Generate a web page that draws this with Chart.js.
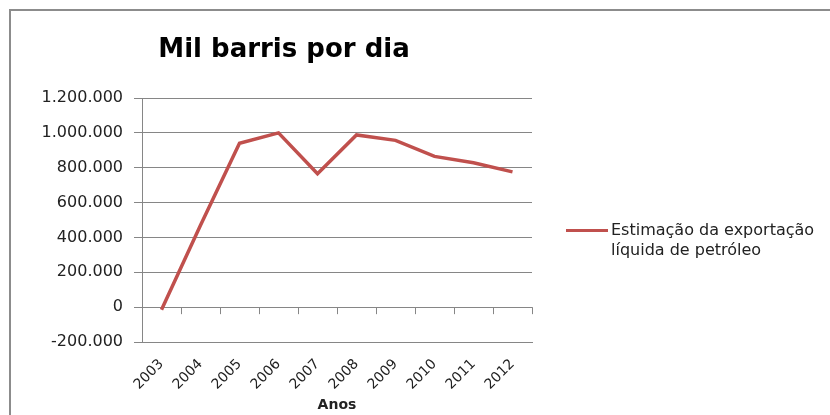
<!DOCTYPE html>
<html lang="pt">
<head>
    <meta charset="UTF-8">
    <title>Mil barris por dia</title>
    <script src="https://cdn.jsdelivr.net/npm/chart.js@4.4.1/dist/chart.umd.min.js"></script>
    <style>
        body {
            margin: 0;
            background: #ffffff;
            font-family: 'DejaVu Sans', sans-serif;
        }
        /* chart box, with the grey frame seen at top and left */
        .chart-box {
            position: relative;
            width: 830px;
            height: 415px;
            overflow: hidden;
        }
        .frame-top {
            position: absolute;
            left: 9px;
            top: 9px;
            width: 821px;
            height: 2px;
            background: #8c8c8c;
        }
        .frame-left {
            position: absolute;
            left: 9px;
            top: 9px;
            width: 2px;
            height: 406px;
            background: #8c8c8c;
        }
        .title {
            position: absolute;
            left: 0;
            top: 33px;
            width: 568px;
            text-align: center;
            font-weight: bold;
            font-size: 26px;
            line-height: 30px;
            color: #000;
        }
        .legend {
            position: absolute;
            left: 566px;
            top: 220px;
            font-size: 16px;
            line-height: 20px;
            color: #222;
        }
        .legend .swatch {
            position: absolute;
            left: 0;
            top: 9px;
            width: 42px;
            height: 3px;
            background: #c0504d;
        }
        .legend .text {
            margin-left: 45px;
            white-space: nowrap;
        }
        .canvas-wrapper {
            position: absolute;
            left: 0;
            top: 0;
            width: 830px;
            height: 415px;
        }
    </style>
</head>
<body>

<div class="chart-box">
    <div class="frame-top"></div>
    <div class="frame-left"></div>
    <div class="canvas-wrapper">
        <canvas id="exportChart"></canvas>
    </div>
    <div class="title">Mil barris por dia</div>
    <div class="legend">
        <div class="swatch"></div>
        <div class="text">Estimação da exportação<br>líquida de petróleo</div>
    </div>
</div>

<script>
    // --- DATA ---
    const years = ['2003', '2004', '2005', '2006', '2007', '2008', '2009', '2010', '2011', '2012'];
    const netExports = [-15000, 470000, 940000, 1000000, 766000, 988000, 957000, 865000, 828000, 776000];
    const yMin = -200000;
    const yMax = 1200000;
    const yStep = 200000;

    const axisGrey = '#868686';

    // thousands with dots, e.g. 1.200.000
    function fmt(v) {
        return String(v).replace(/\B(?=(\d{3})+(?!\d))/g, '.');
    }

    // small tick marks on the zero line between categories
    const zeroTicks = {
        id: 'zeroTicks',
        afterDraw(chart) {
            const x = chart.scales.x, y = chart.scales.y;
            const y0 = y.getPixelForValue(0);
            const ctx = chart.ctx;
            ctx.save();
            ctx.strokeStyle = axisGrey;
            ctx.lineWidth = 1;
            ctx.beginPath();
            for (let i = 1; i <= years.length; i++) {
                const px = Math.round(x.getPixelForValue(i - 0.5)) + 0.5;
                ctx.moveTo(px, y0);
                ctx.lineTo(px, y0 + 7);
            }
            ctx.stroke();
            ctx.restore();
        }
    };

    const ctx = document.getElementById('exportChart').getContext('2d');
    new Chart(ctx, {
        type: 'line',
        data: {
            labels: years,
            datasets: [{
                label: 'Estimação da exportação líquida de petróleo',
                data: netExports,
                borderColor: '#c0504d',
                borderWidth: 3.5,
                pointRadius: 0,
                tension: 0,
                fill: false
            }]
        },
        options: {
            responsive: true,
            maintainAspectRatio: false,
            animation: false,
            layout: {
                padding: { left: 10, top: 98, right: 298, bottom: 0 }
            },
            plugins: {
                legend: { display: false },
                title: { display: false },
                tooltip: { enabled: false }
            },
            scales: {
                x: {
                    offset: true,
                    grid: { display: false },
                    border: { display: true, color: axisGrey },
                    ticks: {
                        minRotation: 45,
                        maxRotation: 45,
                        padding: 6,
                        color: '#222',
                        font: { family: 'DejaVu Sans', size: 14 }
                    },
                    title: {
                        display: true,
                        text: 'Anos',
                        color: '#222',
                        font: { family: 'DejaVu Sans', size: 14, weight: 'bold' },
                        padding: { top: 0, bottom: 1 }
                    },
                    afterFit(scale) { scale.height = 73; }
                },
                y: {
                    min: yMin,
                    max: yMax,
                    ticks: {
                        stepSize: yStep,
                        padding: 11,
                        color: '#222',
                        font: { family: 'DejaVu Sans', size: 16 },
                        callback: v => fmt(v)
                    },
                    grid: {
                        color: axisGrey,
                        lineWidth: 1,
                        tickLength: 8
                    },
                    border: { display: true, color: axisGrey },
                    afterFit(scale) { scale.width = 132; }
                }
            }
        },
        plugins: [zeroTicks]
    });
</script>

</body>
</html>
